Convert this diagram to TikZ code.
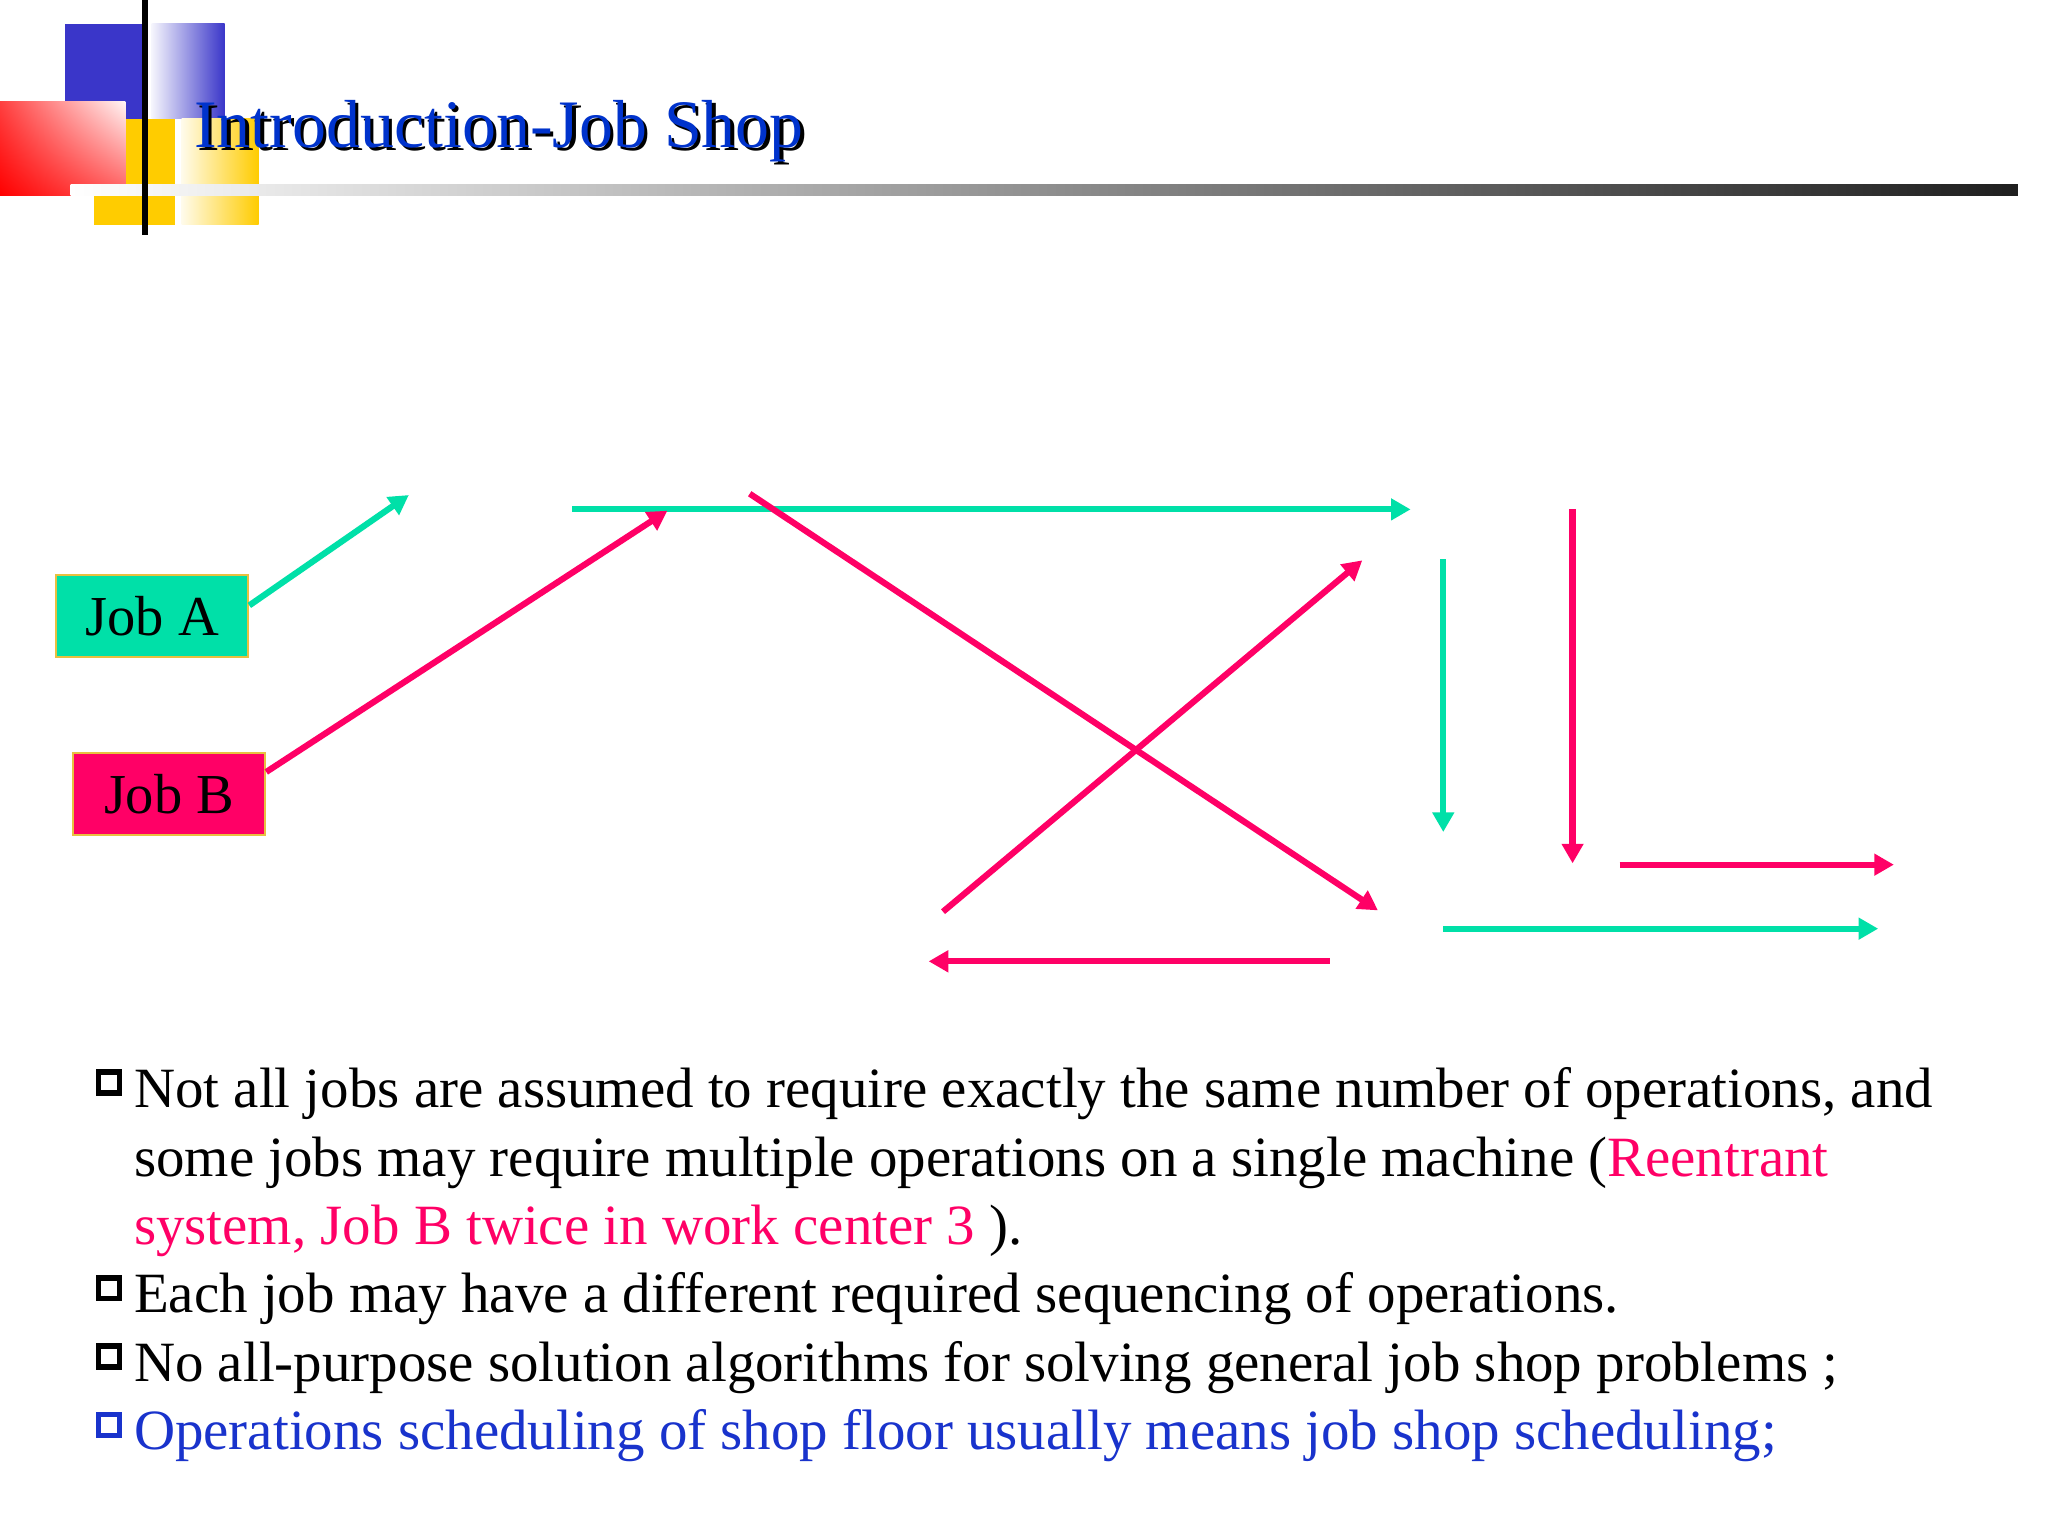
\documentclass[tikz,border=0pt]{standalone}
\usepackage{fontspec}
\setmainfont{Liberation Serif}
\usetikzlibrary{arrows.meta}
\usetikzlibrary{shadings}

\definecolor{jobgreen}{RGB}{0,224,168}
\definecolor{jobpink}{RGB}{255,0,102}
\definecolor{titleblue}{RGB}{0,51,204}
\definecolor{textblue}{RGB}{25,51,204}
\definecolor{decoblue}{RGB}{58,54,201}
\definecolor{decoyellow}{RGB}{255,204,0}
\definecolor{boxedge}{RGB}{232,192,64}

\tikzset{
  jobbox/.style={draw=boxedge, line width=0.5pt, minimum width=1.47cm, minimum height=0.63cm, inner sep=0pt, font=\fontsize{12.3}{14}\selectfont},
  flowa/.style={draw=jobgreen, line width=1.35pt, -{Triangle[length=1.5mm,width=1.6mm]}},
  flowb/.style={draw=jobpink, line width=1.35pt, -{Triangle[length=1.5mm,width=1.6mm]}},
  txtline/.style={anchor=base west, inner sep=0pt, font=\fontsize{12.4}{15}\selectfont},
  sqbullet/.style={draw, line width=1.25pt, minimum size=1.6mm, inner sep=0pt}
}

\begin{document}
\begin{tikzpicture}[x=0.1mm, y=-0.1mm]
\useasboundingbox (0,0) rectangle (1568,1176);
\fill[white] (0,0) rectangle (1568,1176);

% title decoration
\fill[decoblue] (50,18) rectangle (110,91);
\shade[left color=decoblue!5, right color=decoblue] (116,18) rectangle (172,91);
\fill[decoyellow] (72,91) rectangle (134,172);
\shade[left color=decoyellow!8, right color=decoyellow] (139,91) rectangle (198,172);
\shade[lower left=red, lower right=red!65, upper left=red!75, upper right=red!4] (0,78) rectangle (96,150);
\shade[left color=white, right color=black!88] (54,141) rectangle (1545,150);
\draw[line width=0.4mm] (111,0) -- (111,180);

% title
\node[anchor=base west, inner sep=0pt, font=\fontsize{14.8}{17}\selectfont, text=black] (titleshadow) at (150.5,115.5) {Introduction-Job Shop};
\node[anchor=base west, inner sep=0pt, font=\fontsize{14.8}{17}\selectfont, text=titleblue] (title) at (148,113) {Introduction-Job Shop};

% jobs
\node[jobbox, fill=jobgreen] (jobA) at (116.5,471.5) {Job A};
\node[jobbox, fill=jobpink] (jobB) at (129.5,608) {Job B};

% route ends
\coordinate (a1) at (313,379);
\coordinate (a2) at (438,390);
\coordinate (a3) at (1080,390);
\coordinate (a4) at (1105,428);
\coordinate (a5) at (1105,637);
\coordinate (a6) at (1105,711);
\coordinate (a7) at (1438,711);
\coordinate (b1) at (511,391);
\coordinate (b2) at (574,378);
\coordinate (b3) at (1055,697);
\coordinate (b4) at (1018,736);
\coordinate (b5) at (711,736);
\coordinate (b6) at (722,698);
\coordinate (b7) at (1043,429);
\coordinate (b8) at (1204,390);
\coordinate (b9) at (1204,661);
\coordinate (b10) at (1240,662);
\coordinate (b11) at (1450,662);

% job A route
\draw[flowa] ([yshift=0.8mm]jobA.east) -- (a1);
\draw[flowa] (a2) -- (a3);
\draw[flowa] (a4) -- (a5);
\draw[flowa] (a6) -- (a7);

% job B route
\draw[flowb] ([yshift=1.7mm]jobB.east) -- (b1);
\draw[flowb] (b2) -- (b3);
\draw[flowb] (b4) -- (b5);
\draw[flowb] (b6) -- (b7);
\draw[flowb] (b8) -- (b9);
\draw[flowb] (b10) -- (b11);

% text
\node[sqbullet] (q1) at (83.5,829) {};
\node[txtline] (l1) at (102,848) {Not all jobs are assumed to require exactly the same number of operations, and};
\node[txtline] (l2) at (102,900.4) {some jobs may require multiple operations on a single machine (\textcolor{jobpink}{Reentrant}};
\node[txtline] (l3) at (102,952.8) {\textcolor{jobpink}{system, Job B twice in work center 3} ).};
\node[sqbullet] (q2) at (83.5,986.2) {};
\node[txtline] (l4) at (102,1005.2) {Each job may have a different required sequencing of operations.};
\node[sqbullet] (q3) at (83.5,1038.6) {};
\node[txtline] (l5) at (102,1057.6) {No all-purpose solution algorithms for solving general job shop problems ;};
\node[sqbullet, draw=textblue] (q4) at (83.5,1091) {};
\node[txtline, text=textblue] (l6) at (102,1110) {Operations scheduling of shop floor usually means job shop scheduling;};
\end{tikzpicture}
\end{document}
